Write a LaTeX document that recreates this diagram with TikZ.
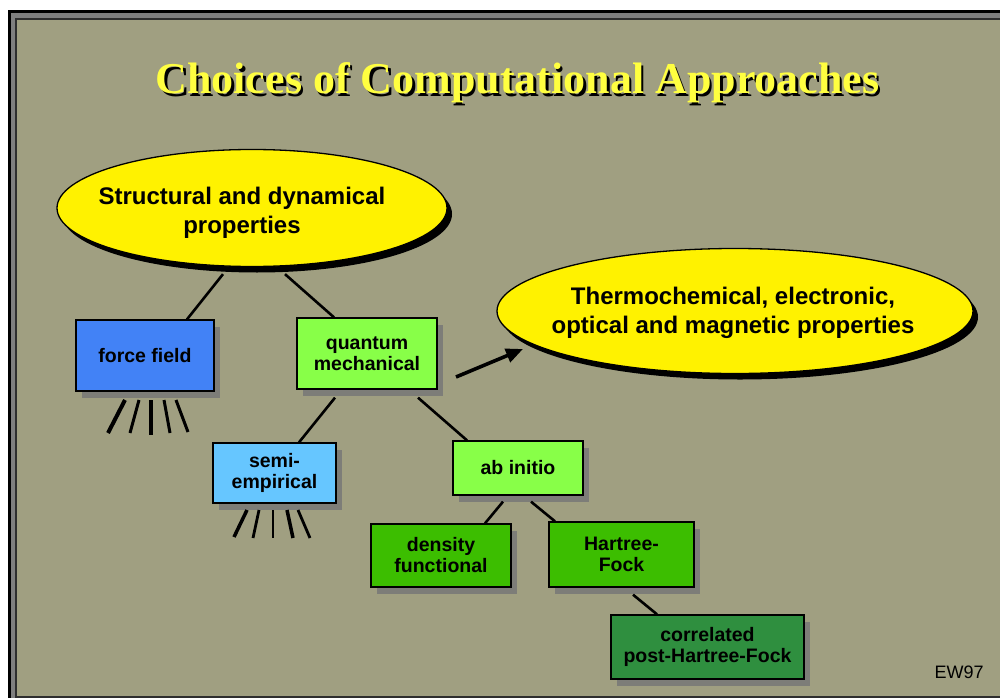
\documentclass[tikz,border=0pt]{standalone}
\usepackage{fontspec}
\setmainfont{Liberation Sans}
\newfontfamily\titlefont{Liberation Serif}
\usetikzlibrary{shapes.geometric,shadows,arrows.meta,calc}
\definecolor{bgolive}{HTML}{A09F81}
\definecolor{framegray}{HTML}{7F7F7F}
\definecolor{framedark}{HTML}{2E2E2E}
\definecolor{shadowgray}{HTML}{7D7D78}
\definecolor{ffblue}{HTML}{4282F6}
\definecolor{seblue}{HTML}{66C6FF}
\definecolor{lgreen}{HTML}{88FF48}
\definecolor{mgreen}{HTML}{3CBE00}
\definecolor{dgreen}{HTML}{2F8F3F}
\definecolor{titleyellow}{HTML}{FFFF40}
\newcommand{\shadowtext}[1]{\makebox[0pt][l]{\hspace{2.5pt}\raisebox{-2.5pt}{\color{black}#1}}#1}
\tikzset{
  box/.style={draw=black, line width=1.3pt, rectangle, align=center,
    font=\bfseries\fontsize{19.5}{21}\selectfont, inner sep=2pt,
    drop shadow={shadow xshift=6pt, shadow yshift=-7pt, fill=shadowgray, opacity=1}},
  oval/.style={draw=black, line width=1.3pt, ellipse, fill=yellow, inner sep=0pt,
    drop shadow={shadow xshift=5pt, shadow yshift=-6pt, fill=black, opacity=1}},
  ovaltext/.style={align=center, font=\bfseries\fontsize{24}{29}\selectfont},
  link/.style={draw=black, line width=2.6pt},
  leg/.style={draw=black},
}
\begin{document}
\begin{tikzpicture}[x=1pt,y=-1pt]
\useasboundingbox (0,0) rectangle (1000,698);
% frame
\fill[white] (0,0) rectangle (1000,698);
\fill[black] (8,10) rectangle (1000,698);
\fill[framegray] (11,13) rectangle (1000,698);
\fill[framedark] (15,18) rectangle (1000,698);
\fill[bgolive] (17,20) rectangle (1000,696);
% title
\node[anchor=base, text=titleyellow, font=\titlefont\bfseries\fontsize{44}{48}\selectfont] (title) at (517.5,94) {\shadowtext{Choices of Computational Approaches}};
% ellipses
\node[oval, minimum width=390pt, minimum height=117pt] (e1) at (252,208) {};
\node[ovaltext] (e1t) at (242,213) {Structural and dynamical\\properties};
\node[oval, minimum width=476pt, minimum height=125pt] (e2) at (735,311) {};
\node[ovaltext] (e2t) at (733,313) {Thermochemical, electronic,\\optical and magnetic properties};
% boxes
\node[box, fill=ffblue, minimum width=138pt, minimum height=71pt] (ff) at (145,355.5) {force field};
\node[box, fill=lgreen, minimum width=140pt, minimum height=71pt] (qm) at (367,353.5) {quantum\\mechanical};
\node[box, fill=seblue, minimum width=123pt, minimum height=60pt] (se) at (274.5,473) {semi-\\empirical};
\node[box, fill=lgreen, minimum width=130pt, minimum height=54pt] (ai) at (518,468) {ab initio};
\node[box, fill=mgreen, minimum width=140pt, minimum height=63pt] (df) at (441,555.5) {density\\functional};
\node[box, fill=mgreen, minimum width=145pt, minimum height=65pt] (hf) at (621.5,554.5) {Hartree-\\Fock};
\node[box, fill=dgreen, minimum width=193pt, minimum height=64pt] (co) at (707.5,647) {correlated\\post-Hartree-Fock};
% connectors
\draw[link] ([xshift=-29pt,yshift=-7pt]e1.south) -- ([xshift=42pt]ff.north);
\draw[link] ([xshift=33pt,yshift=-7pt]e1.south) -- ([xshift=-33pt]qm.north);
\draw[link] ([xshift=-32pt,yshift=-8pt]qm.south) -- ([xshift=24.5pt]se.north);
\draw[link] ([xshift=51pt,yshift=-8pt]qm.south) -- ([xshift=-51pt]ai.north);
\draw[link] ([xshift=-15pt,yshift=-6pt]ai.south) -- ([xshift=44pt]df.north);
\draw[link] ([xshift=13pt,yshift=-6pt]ai.south) -- ([xshift=-66.5pt]hf.north);
\draw[link] ([xshift=11.5pt,yshift=-7pt]hf.south) -- ([xshift=-50.5pt]co.north);
% arrow
\coordinate (arrtail) at (456,377);
\coordinate (arrhead) at (523,349);
\draw[line width=3.6pt, -{Triangle[length=17pt,width=14pt]}] (arrtail) -- (arrhead);
% legs under force field
\draw[leg, line width=4pt] (125,400) -- (108,433);
\draw[leg, line width=3pt] (139,400) -- (130,433);
\draw[leg, line width=4pt] (151,400) -- (151,435);
\draw[leg, line width=3pt] (164,400) -- (170,433);
\draw[leg, line width=3pt] (176,400) -- (188,432);
% legs under semi-empirical
\draw[leg, line width=3.5pt] (247,510) -- (234,537);
\draw[leg, line width=2.8pt] (259,510) -- (253,538);
\draw[leg, line width=2.5pt] (273,510) -- (273,538);
\draw[leg, line width=3.5pt] (287,510) -- (293,538);
\draw[leg, line width=2.8pt] (298,510) -- (310,538);
% signature
\node[font=\fontsize{18}{20}\selectfont, anchor=base] (sig) at (959,678) {EW97};
\end{tikzpicture}
\end{document}
